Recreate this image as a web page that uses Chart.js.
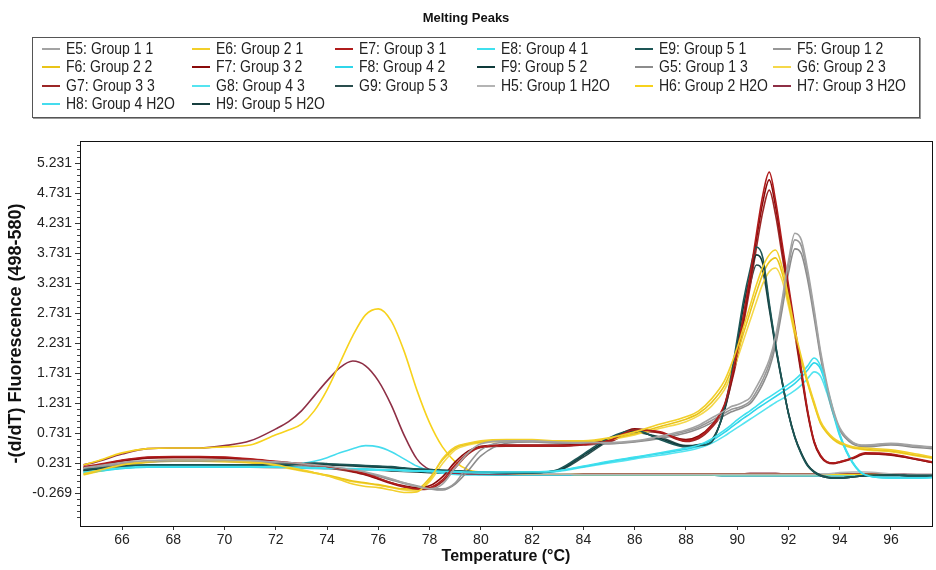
<!DOCTYPE html>
<html>
<head>
<title>Melting Peaks</title>
<script src="https://cdn.jsdelivr.net/npm/chart.js"></script>
<style>
  body { margin: 0; background: #fff; }
  #wrap { position: relative; width: 936px; height: 570px; }
  #legendBox {
    position: absolute; left: 32px; top: 37px; width: 886px; height: 79px;
    border: 1px solid #555; box-shadow: 1px 1px 0 #999;
    font: 14px 'Liberation Sans', Arial, sans-serif;
    color: #222;
  }
  .item { position: absolute; white-space: nowrap; line-height: 18px; }
  .item span.t { display: inline-block; transform: scaleY(1.15); transform-origin: 50% 55%; }
  .item i { display: inline-block; width: 18px; height: 2px; vertical-align: middle; margin-right: 6px; }
</style>
</head>
<body>
<div id="wrap">
  <canvas id="myChart" width="936" height="570"></canvas>
  <div id="legendBox"></div>
</div>

<script>
// temperature grid (°C), finer around the product peaks
const temps = [64.5, 65, 66, 67, 68, 69, 70, 71, 72,
  72.5, 73, 73.5, 74, 74.5, 75, 75.5, 76, 76.5, 77, 77.5, 78, 78.5, 79, 79.5, 80,
  81, 82, 83, 84, 85, 86, 87, 88, 88.5, 89,
  89.5, 89.75, 90, 90.25, 90.5, 90.75, 91, 91.25, 91.5, 91.75, 92, 92.25, 92.5, 92.75, 93, 93.25, 93.5, 93.75, 94,
  94.5, 95, 96, 97, 97.6];

const sampleNames = [
  'E5: Group 1 1', 'E6: Group 2 1', 'E7: Group 3 1', 'E8: Group 4 1', 'E9: Group 5 1',
  'F5: Group 1 2', 'F6: Group 2 2', 'F7: Group 3 2', 'F8: Group 4 2', 'F9: Group 5 2',
  'G5: Group 1 3', 'G6: Group 2 3', 'G7: Group 3 3', 'G8: Group 4 3', 'G9: Group 5 3',
  'H5: Group 1 H2O', 'H6: Group 2 H2O', 'H7: Group 3 H2O', 'H8: Group 4 H2O', 'H9: Group 5 H2O'
];

const lineColors = [
  '#a3a3a3', '#f2cf2a', '#b01c1c', '#3fe0ee', '#1d5656',
  '#979797', '#e9c418', '#8a0a0a', '#2fd6ea', '#0e3a3a',
  '#8c8c8c', '#f5d84a', '#9c2626', '#55e4f0', '#2a4e4e',
  '#b4b4b4', '#f7d21c', '#8e2f45', '#45dcee', '#173f3f'
];

const xTicks = [66, 68, 70, 72, 74, 76, 78, 80, 82, 84, 86, 88, 90, 92, 94, 96];
const yTicks = [-0.269, 0.231, 0.731, 1.231, 1.731, 2.231, 2.731, 3.231, 3.731, 4.231, 4.731, 5.231];

// Group 1
const e5 = [
  0.15, 0.18, 0.24, 0.27, 0.28, 0.28, 0.28, 0.27, 0.25,
  0.24, 0.22, 0.20, 0.18, 0.15, 0.12, 0.08, 0.03, -0.03, -0.10, -0.16, -0.20, -0.12, 0.15, 0.40, 0.55,
  0.60, 0.60, 0.58, 0.57, 0.57, 0.60, 0.68, 0.78, 0.86, 0.98,
  1.10, 1.17, 1.20, 1.25, 1.32, 1.50, 1.70, 1.95, 2.35, 2.95, 3.60, 4.06, 3.95, 3.45, 2.80, 2.10, 1.55, 1.12, 0.82,
  0.58, 0.53, 0.56, 0.52, 0.50];
const f5 = [
  0.13, 0.16, 0.22, 0.26, 0.27, 0.27, 0.27, 0.26, 0.24,
  0.23, 0.21, 0.19, 0.17, 0.14, 0.11, 0.07, 0.02, -0.04, -0.10, -0.15, -0.19, -0.20, -0.10, 0.20, 0.45,
  0.58, 0.59, 0.57, 0.56, 0.56, 0.59, 0.66, 0.76, 0.83, 0.94,
  1.06, 1.12, 1.15, 1.19, 1.26, 1.42, 1.62, 1.88, 2.28, 2.88, 3.52, 3.95, 3.85, 3.38, 2.74, 2.05, 1.50, 1.08, 0.80,
  0.57, 0.52, 0.55, 0.51, 0.49];
const g5 = [
  0.12, 0.15, 0.21, 0.25, 0.26, 0.26, 0.26, 0.25, 0.23,
  0.22, 0.20, 0.18, 0.16, 0.13, 0.10, 0.06, 0.01, -0.05, -0.11, -0.16, -0.20, -0.22, -0.12, 0.10, 0.35,
  0.56, 0.58, 0.56, 0.55, 0.55, 0.58, 0.64, 0.73, 0.80, 0.90,
  1.02, 1.08, 1.12, 1.16, 1.22, 1.36, 1.55, 1.80, 2.20, 2.78, 3.40, 3.80, 3.72, 3.28, 2.66, 2.00, 1.46, 1.05, 0.78,
  0.55, 0.50, 0.53, 0.49, 0.47];
const h5 = [
  0.12, 0.14, 0.17, 0.18, 0.18, 0.17, 0.17, 0.16, 0.15,
  0.15, 0.14, 0.14, 0.13, 0.13, 0.12, 0.12, 0.11, 0.11, 0.10, 0.10, 0.09, 0.09, 0.08, 0.08, 0.07,
  0.06, 0.05, 0.05, 0.04, 0.04, 0.04, 0.04, 0.04, 0.04, 0.04,
  0.04, 0.04, 0.04, 0.04, 0.04, 0.04, 0.04, 0.04, 0.04, 0.04, 0.04, 0.04, 0.04, 0.04, 0.04, 0.05, 0.05, 0.06, 0.07,
  0.08, 0.08, 0.05, 0.04, 0.04];

// Group 2
const e6 = [
  0.05, 0.10, 0.20, 0.26, 0.28, 0.28, 0.27, 0.25, 0.20,
  0.16, 0.12, 0.07, 0.02, -0.05, -0.12, -0.16, -0.18, -0.22, -0.26, -0.25, -0.05, 0.30, 0.50, 0.56, 0.60,
  0.62, 0.62, 0.60, 0.60, 0.65, 0.75, 0.88, 1.00, 1.10, 1.30,
  1.60, 1.85, 2.15, 2.50, 2.85, 3.20, 3.50, 3.70, 3.78, 3.50, 3.00, 2.45, 2.00, 1.60, 1.25, 0.93, 0.76, 0.65, 0.58,
  0.50, 0.48, 0.45, 0.38, 0.33];
const f6 = [
  0.04, 0.09, 0.19, 0.25, 0.27, 0.27, 0.26, 0.24, 0.19,
  0.15, 0.11, 0.07, 0.03, -0.02, -0.07, -0.10, -0.13, -0.17, -0.20, -0.20, -0.02, 0.28, 0.48, 0.55, 0.58,
  0.60, 0.60, 0.59, 0.59, 0.63, 0.72, 0.84, 0.96, 1.06, 1.24,
  1.52, 1.76, 2.05, 2.40, 2.74, 3.08, 3.38, 3.58, 3.65, 3.40, 2.92, 2.40, 1.96, 1.57, 1.22, 0.90, 0.74, 0.63, 0.56,
  0.49, 0.46, 0.43, 0.36, 0.32];
const g6 = [
  0.03, 0.08, 0.18, 0.24, 0.26, 0.26, 0.25, 0.23, 0.18,
  0.14, 0.10, 0.06, 0.02, -0.03, -0.08, -0.11, -0.14, -0.18, -0.22, -0.23, -0.08, 0.22, 0.45, 0.53, 0.57,
  0.59, 0.59, 0.58, 0.58, 0.62, 0.70, 0.81, 0.92, 1.02, 1.18,
  1.45, 1.68, 1.96, 2.28, 2.60, 2.92, 3.22, 3.42, 3.48, 3.28, 2.85, 2.36, 1.93, 1.55, 1.20, 0.89, 0.73, 0.62, 0.55,
  0.48, 0.45, 0.42, 0.35, 0.31];
const h6 = [
  0.20, 0.26, 0.40, 0.47, 0.48, 0.48, 0.50, 0.53, 0.70,
  0.78, 0.88, 1.10, 1.45, 1.90, 2.35, 2.70, 2.80, 2.60, 2.10, 1.45, 0.90, 0.50, 0.25, 0.12, 0.08,
  0.06, 0.05, 0.05, 0.04, 0.04, 0.04, 0.04, 0.04, 0.04, 0.04,
  0.04, 0.04, 0.04, 0.04, 0.04, 0.04, 0.04, 0.04, 0.04, 0.04, 0.04, 0.04, 0.04, 0.04, 0.04, 0.04, 0.04, 0.04, 0.04,
  0.04, 0.04, 0.04, 0.03, 0.03];

// Group 3
const e7 = [
  0.17, 0.20, 0.28, 0.33, 0.34, 0.34, 0.33, 0.30, 0.26,
  0.24, 0.22, 0.20, 0.17, 0.14, 0.10, 0.05, -0.02, -0.10, -0.16, -0.20, -0.18, -0.05, 0.20, 0.40, 0.50,
  0.52, 0.52, 0.52, 0.54, 0.60, 0.78, 0.75, 0.60, 0.66, 0.85,
  1.20, 1.60, 2.10, 2.70, 3.35, 4.05, 4.70, 5.08, 4.60, 3.90, 3.20, 2.50, 1.80, 1.10, 0.60, 0.36, 0.25, 0.23, 0.25,
  0.32, 0.40, 0.38, 0.30, 0.25];
const f7 = [
  0.16, 0.19, 0.27, 0.32, 0.33, 0.33, 0.32, 0.29, 0.25,
  0.23, 0.21, 0.19, 0.16, 0.13, 0.09, 0.04, -0.03, -0.10, -0.15, -0.18, -0.15, 0.00, 0.25, 0.43, 0.51,
  0.53, 0.53, 0.53, 0.55, 0.62, 0.80, 0.74, 0.62, 0.68, 0.86,
  1.18, 1.56, 2.05, 2.64, 3.28, 3.96, 4.58, 4.95, 4.50, 3.82, 3.12, 2.44, 1.75, 1.08, 0.59, 0.35, 0.25, 0.23, 0.25,
  0.31, 0.39, 0.37, 0.29, 0.24];
const g7 = [
  0.15, 0.18, 0.26, 0.31, 0.32, 0.32, 0.31, 0.28, 0.24,
  0.22, 0.20, 0.18, 0.15, 0.12, 0.08, 0.03, -0.04, -0.11, -0.17, -0.21, -0.20, -0.08, 0.15, 0.38, 0.49,
  0.51, 0.51, 0.51, 0.53, 0.58, 0.76, 0.73, 0.59, 0.64, 0.82,
  1.14, 1.52, 1.98, 2.55, 3.16, 3.82, 4.42, 4.78, 4.36, 3.70, 3.04, 2.38, 1.70, 1.05, 0.57, 0.34, 0.24, 0.22, 0.24,
  0.30, 0.38, 0.36, 0.29, 0.24];
const h7 = [
  0.20, 0.25, 0.38, 0.47, 0.48, 0.48, 0.52, 0.60, 0.80,
  0.92, 1.10, 1.35, 1.60, 1.82, 1.93, 1.85, 1.60, 1.20, 0.70, 0.30, 0.12, 0.08, 0.06, 0.05, 0.05,
  0.05, 0.05, 0.05, 0.05, 0.05, 0.05, 0.05, 0.05, 0.05, 0.05,
  0.05, 0.05, 0.05, 0.05, 0.06, 0.06, 0.06, 0.06, 0.06, 0.05, 0.05, 0.05, 0.05, 0.05, 0.05, 0.05, 0.05, 0.05, 0.05,
  0.05, 0.05, 0.05, 0.04, 0.04];

// Group 4
const e8 = [
  0.08, 0.10, 0.15, 0.17, 0.17, 0.17, 0.17, 0.17, 0.17,
  0.16, 0.16, 0.15, 0.15, 0.14, 0.14, 0.13, 0.12, 0.12, 0.11, 0.10, 0.10, 0.09, 0.09, 0.08, 0.08,
  0.08, 0.08, 0.10, 0.18, 0.26, 0.33, 0.40, 0.48, 0.53, 0.63,
  0.78, 0.86, 0.95, 1.03, 1.10, 1.18, 1.26, 1.33, 1.40, 1.47, 1.54, 1.62, 1.72, 1.85, 1.98, 1.85, 1.50, 1.10, 0.72,
  0.25, 0.03, -0.02, -0.02, -0.01];
const f8 = [
  0.07, 0.09, 0.14, 0.16, 0.16, 0.16, 0.16, 0.16, 0.16,
  0.16, 0.15, 0.15, 0.14, 0.14, 0.13, 0.13, 0.12, 0.11, 0.11, 0.10, 0.09, 0.09, 0.08, 0.08, 0.07,
  0.07, 0.08, 0.10, 0.17, 0.25, 0.32, 0.39, 0.46, 0.51, 0.60,
  0.74, 0.82, 0.90, 0.98, 1.05, 1.13, 1.20, 1.27, 1.34, 1.41, 1.48, 1.56, 1.66, 1.78, 1.90, 1.80, 1.47, 1.08, 0.70,
  0.24, 0.03, -0.02, -0.02, -0.01];
const g8 = [
  0.06, 0.09, 0.14, 0.16, 0.16, 0.16, 0.16, 0.16, 0.16,
  0.15, 0.15, 0.14, 0.14, 0.13, 0.13, 0.12, 0.11, 0.11, 0.10, 0.10, 0.09, 0.08, 0.08, 0.07, 0.07,
  0.07, 0.07, 0.09, 0.16, 0.23, 0.30, 0.36, 0.43, 0.48, 0.56,
  0.68, 0.75, 0.82, 0.89, 0.96, 1.03, 1.10, 1.17, 1.24, 1.30, 1.37, 1.44, 1.53, 1.64, 1.75, 1.68, 1.40, 1.04, 0.68,
  0.23, 0.03, -0.02, -0.02, -0.01];
const h8 = [
  0.06, 0.10, 0.15, 0.17, 0.18, 0.18, 0.18, 0.18, 0.19,
  0.20, 0.22, 0.26, 0.32, 0.40, 0.47, 0.52, 0.50, 0.42, 0.30, 0.18, 0.10, 0.06, 0.04, 0.03, 0.03,
  0.03, 0.03, 0.03, 0.03, 0.03, 0.03, 0.03, 0.03, 0.03, 0.03,
  0.02, 0.02, 0.02, 0.02, 0.02, 0.02, 0.02, 0.02, 0.02, 0.02, 0.02, 0.02, 0.02, 0.02, 0.02, 0.02, 0.02, 0.02, 0.02,
  0.02, 0.02, 0.02, 0.02, 0.02];

// Group 5
const e9 = [
  0.12, 0.14, 0.18, 0.20, 0.20, 0.20, 0.20, 0.20, 0.21,
  0.21, 0.22, 0.23, 0.22, 0.21, 0.20, 0.19, 0.18, 0.17, 0.15, 0.13, 0.12, 0.11, 0.10, 0.09, 0.08,
  0.07, 0.07, 0.12, 0.38, 0.65, 0.78, 0.62, 0.50, 0.52, 0.58,
  1.15, 1.65, 2.30, 2.95, 3.45, 3.83, 3.65, 2.90, 2.20, 1.60, 1.05, 0.65, 0.38, 0.18, 0.08, 0.02, -0.01, -0.02, -0.02,
  0.00, 0.02, 0.03, 0.02, 0.02];
const f9 = [
  0.11, 0.13, 0.17, 0.19, 0.19, 0.19, 0.19, 0.20, 0.20,
  0.20, 0.21, 0.22, 0.21, 0.20, 0.19, 0.18, 0.17, 0.16, 0.14, 0.13, 0.12, 0.11, 0.10, 0.09, 0.08,
  0.07, 0.07, 0.11, 0.36, 0.62, 0.76, 0.64, 0.51, 0.53, 0.60,
  1.12, 1.60, 2.22, 2.85, 3.35, 3.70, 3.55, 2.85, 2.18, 1.60, 1.06, 0.66, 0.39, 0.19, 0.08, 0.02, -0.01, -0.02, -0.02,
  0.00, 0.02, 0.03, 0.02, 0.02];
const g9 = [
  0.10, 0.12, 0.16, 0.18, 0.19, 0.19, 0.19, 0.19, 0.20,
  0.20, 0.21, 0.21, 0.20, 0.19, 0.18, 0.17, 0.16, 0.15, 0.14, 0.12, 0.11, 0.10, 0.09, 0.08, 0.08,
  0.07, 0.07, 0.10, 0.33, 0.60, 0.74, 0.66, 0.52, 0.54, 0.62,
  1.10, 1.55, 2.12, 2.70, 3.20, 3.53, 3.42, 2.80, 2.15, 1.58, 1.06, 0.67, 0.40, 0.20, 0.09, 0.03, 0.00, -0.02, -0.02,
  0.00, 0.02, 0.03, 0.02, 0.02];
const h9 = [
  0.10, 0.13, 0.17, 0.18, 0.18, 0.18, 0.18, 0.18, 0.17,
  0.17, 0.16, 0.16, 0.15, 0.14, 0.13, 0.12, 0.11, 0.10, 0.09, 0.08, 0.07, 0.06, 0.05, 0.05, 0.04,
  0.03, 0.03, 0.03, 0.03, 0.03, 0.03, 0.03, 0.03, 0.03, 0.03,
  0.02, 0.02, 0.02, 0.02, 0.02, 0.02, 0.02, 0.02, 0.02, 0.02, 0.02, 0.02, 0.02, 0.02, 0.02, 0.02, 0.02, 0.02, 0.02,
  0.02, 0.02, 0.02, 0.02, 0.02];

// same order as sampleNames
const series = [e5, e6, e7, e8, e9, f5, f6, f7, f8, f9, g5, g6, g7, g8, g9, h5, h6, h7, h8, h9];

const sans = "'Liberation Sans', Arial, sans-serif";

const data = {
  datasets: series.map((vals, i) => ({
    label: sampleNames[i],
    data: vals.map((v, j) => ({ x: temps[j], y: v })),
    borderColor: lineColors[i],
    borderWidth: 1.6,
    pointRadius: 0,
    fill: false,
    cubicInterpolationMode: 'monotone'
  }))
};

// box around the plot plus the small in-between ticks on the y axis
const plotFrame = {
  id: 'plotFrame',
  afterDatasetsDraw(chart) {
    const { ctx, chartArea: a } = chart;
    const y = chart.scales.y;
    ctx.save();
    ctx.strokeStyle = '#111';
    ctx.lineWidth = 1;
    ctx.strokeRect(Math.round(a.left) + 0.5, Math.round(a.top) + 0.5,
      Math.round(a.right - a.left), Math.round(a.bottom - a.top));
    ctx.strokeStyle = '#444';
    ctx.beginPath();
    for (let k = -5; k <= 60; k++) {
      if (k % 5 === 0) continue;
      const v = yTicks[0] + k * 0.1;
      if (v < y.min || v > y.max) continue;
      const py = Math.round(y.getPixelForValue(v)) + 0.5;
      ctx.moveTo(a.left - 3, py);
      ctx.lineTo(a.left, py);
    }
    ctx.stroke();
    ctx.restore();
  }
};

const config = {
  type: 'line',
  data: data,
  plugins: [plotFrame],
  options: {
    responsive: false,
    animation: false,
    devicePixelRatio: 1,
    layout: { padding: { top: 0, right: 4, bottom: 0, left: 0 } },
    plugins: {
      legend: { display: false },
      tooltip: { enabled: false },
      title: {
        display: true,
        text: 'Melting Peaks',
        color: '#111',
        font: { family: sans, size: 13, weight: 'bold' },
        padding: { top: 11, bottom: 114.4 }
      }
    },
    scales: {
      x: {
        type: 'linear',
        min: 64.36,
        max: 97.6,
        afterBuildTicks: s => { s.ticks = xTicks.map(v => ({ value: v })); },
        afterFit: s => { s.height = 44; },
        ticks: {
          color: '#222', autoSkip: false, maxRotation: 0, padding: 2,
          font: { family: sans, size: 14 },
          callback: v => String(v)
        },
        grid: { drawOnChartArea: false, tickLength: 4, tickColor: '#333' },
        border: { color: '#111' },
        title: {
          display: true,
          text: 'Temperature (°C)',
          color: '#111',
          font: { family: sans, size: 16, weight: 'bold' },
          padding: { top: 0, bottom: 4 }
        }
      },
      y: {
        type: 'linear',
        min: -0.819,
        max: 5.598,
        afterBuildTicks: s => { s.ticks = yTicks.map(v => ({ value: v })); },
        afterFit: s => { s.width = 80; },
        ticks: {
          color: '#222', autoSkip: false, padding: 3,
          font: { family: sans, size: 14 },
          callback: v => v.toFixed(3)
        },
        grid: { drawOnChartArea: false, tickLength: 5, tickColor: '#333' },
        border: { color: '#111' },
        title: {
          display: true,
          text: '-(d/dT) Fluorescence (498-580)',
          color: '#111',
          font: { family: sans, size: 18, weight: 'bold' },
          padding: { top: 5, bottom: 0 }
        }
      }
    }
  }
};

const myChart = new Chart(document.getElementById('myChart'), config);

// legend laid out as a fixed grid, six samples per row
const colLeft = [9, 159, 302, 444, 602, 740];
const rowTop = [1, 19, 38, 56];
const box = document.getElementById('legendBox');
myChart.data.datasets.forEach((ds, i) => {
  const item = document.createElement('div');
  item.className = 'item';
  item.style.left = colLeft[i % 6] + 'px';
  item.style.top = rowTop[Math.floor(i / 6)] + 'px';
  const swatch = document.createElement('i');
  swatch.style.background = ds.borderColor;
  const text = document.createElement('span');
  text.className = 't';
  text.textContent = ds.label;
  item.appendChild(swatch);
  item.appendChild(text);
  box.appendChild(item);
});
</script>
</body>
</html>
